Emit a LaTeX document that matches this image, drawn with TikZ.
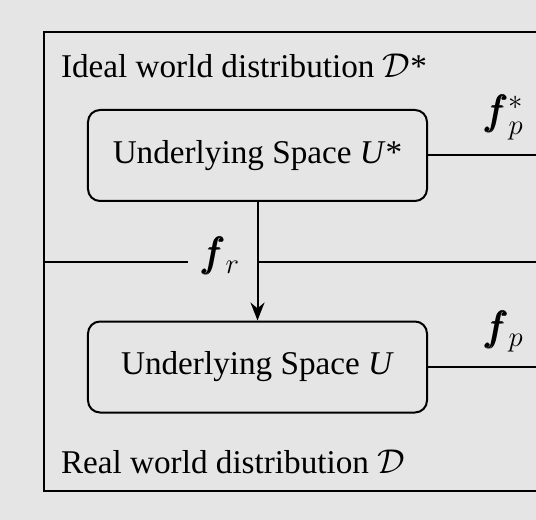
\documentclass[tikz,border=0pt]{standalone}
\usepackage{amsmath}
\usepackage{fontspec}
\setmainfont{Liberation Serif}
\usepackage{tikz}
\usetikzlibrary{arrows.meta}
\definecolor{hgrau}{gray}{0.9}
\tikzset{
  Raum/.style={draw, rounded corners=6bp, minimum width=169.5bp,
    minimum height=45.5bp, inner sep=0pt}, % Kästen
  Welt/.style={anchor=base west, inner sep=0pt}, % Verteilungen
  Abb/.style={inner sep=0pt, font=\fontsize{19.5bp}{23bp}\selectfont} % Abbildungen
}

\begin{document}
\begin{tikzpicture}[x=0.5bp, y=-0.5bp, line width=1bp,
font=\fontsize{16.6bp}{20bp}\selectfont,
>={Stealth[length=9bp,width=7bp]} % Pfeilspitzen
]
\fill[hgrau] (0,0) rectangle (536,520);
\useasboundingbox (0,0) rectangle (536,520);
\clip (0,0) rectangle (536,520);

%Rahmen
\coordinate (RO) at (44,32);
\coordinate (RU) at (580,491);
\draw (RO) rectangle (RU);

%Kästen
\node[Raum] (Ustern) at (257.5,155.5) {Underlying Space \textit{U}*};
\node[Raum] (U) at (257.5,367) {Underlying Space \textit{U}};

%Beschriftungen
\node[Welt] (Dstern) at (60,78) {Ideal world distribution $\mathcal{D}$*};
\node[Welt] (D) at (60,473) {Real world distribution $\mathcal{D}$};

%Trennlinie und f_r
\coordinate (Tl) at (44,262);
\coordinate (Tr) at (580,262);
\node[Abb, inner xsep=6bp, anchor=base east] (fr) at (253,267) {$\pmb{f}_r$};
\draw (Tl) -- (fr.west |- Tl);
\draw (Ustern.south |- Tl) -- (Tr);
\draw[->] (Ustern) -- (U);

%Abbildungen nach rechts
\draw (Ustern.east) -- (Ustern.east -| RU) node[Abb, midway, above=7bp] (fpstern) {$\pmb{f}_p^*$};
\draw (U.east) -- (U.east -| RU) node[Abb, midway, above=7bp] (fp) {$\pmb{f}_p$};

\end{tikzpicture}
\end{document}
